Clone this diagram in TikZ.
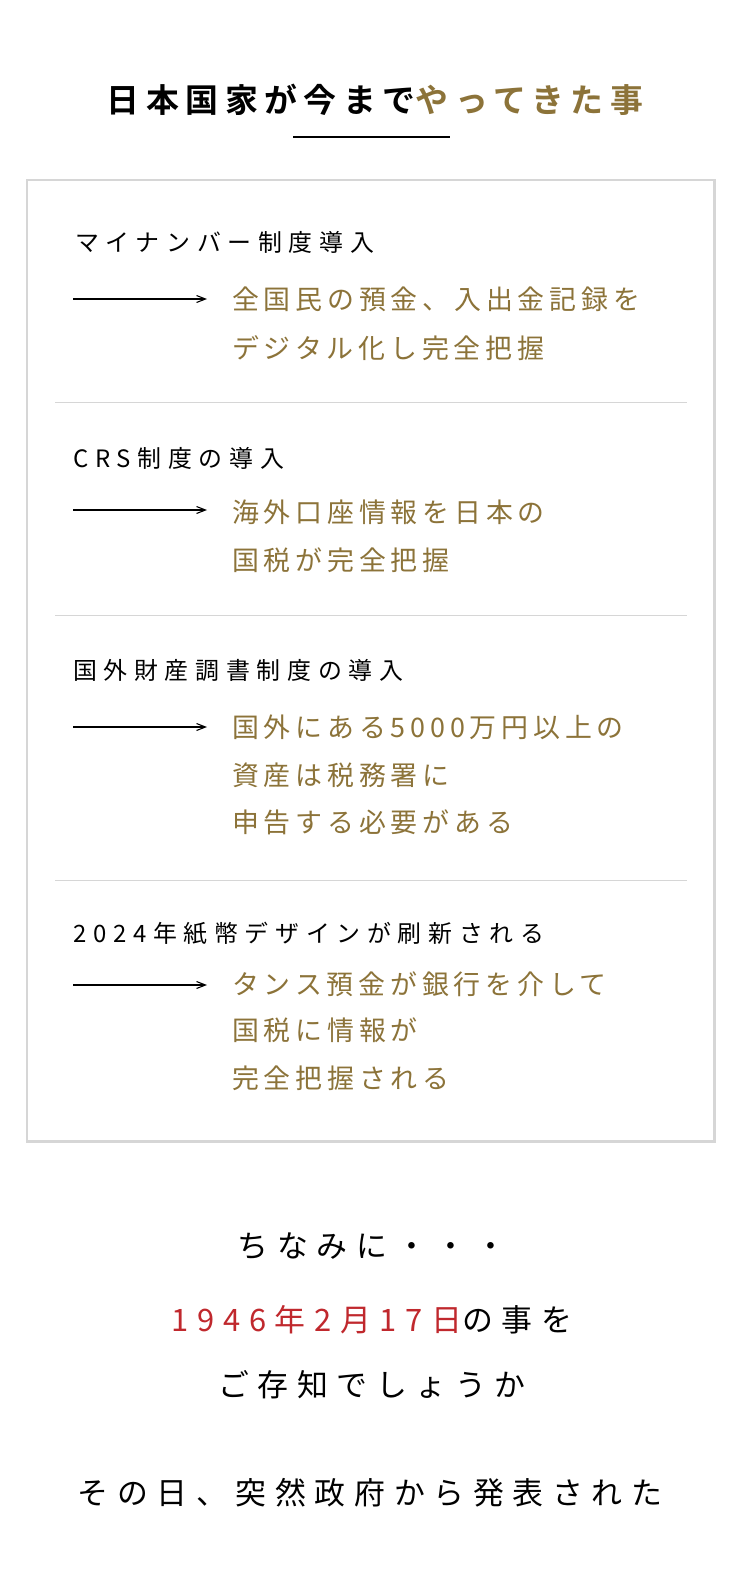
\documentclass[tikz,border=0pt]{standalone}
\usepackage{fontspec}
\setmainfont{Noto Sans CJK JP}
\newfontfamily\jph{Noto Sans CJK JP}[LetterSpace=28]
\newfontfamily\jpb{Noto Sans CJK JP}[LetterSpace=18]
\newfontfamily\jpt{Noto Sans CJK JP}[LetterSpace=20,BoldFont={* Bold}]
\newfontfamily\jpo{Noto Sans CJK JP}[LetterSpace=28]
\usetikzlibrary{arrows.meta}
\definecolor{gold}{HTML}{8C7339}
\definecolor{redc}{HTML}{C0282D}
\definecolor{boxgray}{HTML}{D6D6D6}
\begin{document}
\begin{tikzpicture}[x=1bp,y=-1bp,
  head/.style={anchor=west,inner sep=0pt,font=\fontsize{24}{28}\selectfont\jph},
  body/.style={anchor=west,inner sep=0pt,text=gold,font=\fontsize{27}{30}\selectfont\jpb},
  bot/.style={inner sep=0pt,font=\fontsize{31}{34}\selectfont\jpo},
  arr/.style={-{Straight Barb[length=9pt,width=7pt]},line width=1.1pt},
  sep/.style={draw=boxgray,line width=1pt}]
\useasboundingbox (0,0) rectangle (750,1588);
\fill[white] (0,0) rectangle (750,1588);
\node[inner sep=0pt,font=\fontsize{33}{38}\selectfont\bfseries\jpt] (title) at (375,100) {日本国家が今まで\textcolor{gold}{やってきた事}};
\coordinate (u1) at (293,137); \coordinate (u2) at (450,137);
\draw[line width=3pt] (u1) -- (u2);
\draw[boxgray,line width=3pt] (27,180) rectangle (714,1141);
\coordinate (s1a) at (55,402); \coordinate (s1b) at (687,402);
\coordinate (s2a) at (55,615); \coordinate (s2b) at (687,615);
\coordinate (s3a) at (55,880); \coordinate (s3b) at (687,880);
\draw[sep] (s1a)--(s1b); \draw[sep] (s2a)--(s2b); \draw[sep] (s3a)--(s3b);
% section 1
\node[head] (h1) at (75,242) {マイナンバー制度導入};
\coordinate (a1s) at (73,299); \coordinate (a1e) at (207,299);
\draw[arr] (a1s)--(a1e);
\node[body] (b1a) at (232,299) {全国民の預金、入出金記録を};
\node[body] (b1b) at (232,348) {デジタル化し完全把握};
% section 2
\node[head] (h2) at (73,458) {CRS制度の導入};
\coordinate (a2s) at (73,510); \coordinate (a2e) at (207,510);
\draw[arr] (a2s)--(a2e);
\node[body] (b2a) at (232,512) {海外口座情報を日本の};
\node[body] (b2b) at (232,560) {国税が完全把握};
% section 3
\node[head] (h3) at (73,670) {国外財産調書制度の導入};
\coordinate (a3s) at (73,727); \coordinate (a3e) at (207,727);
\draw[arr] (a3s)--(a3e);
\node[body] (b3a) at (232,727) {国外にある5000万円以上の};
\node[body] (b3b) at (232,775) {資産は税務署に};
\node[body] (b3c) at (232,822) {申告する必要がある};
% section 4
\node[head] (h4) at (73,934) {2024年紙幣デザインが刷新される};
\coordinate (a4s) at (73,985); \coordinate (a4e) at (207,985);
\draw[arr] (a4s)--(a4e);
\node[body] (b4a) at (232,984) {タンス預金が銀行を介して};
\node[body] (b4b) at (232,1030) {国税に情報が};
\node[body] (b4c) at (232,1078) {完全把握される};
% bottom
\node[bot] (t1) at (372,1246) {ちなみに・・・};
\node[bot] (t2) at (372,1320) {\textcolor{redc}{1946年2月17日}の事を};
\node[bot] (t3) at (372,1385) {ご存知でしょうか};
\node[bot] (t4) at (370,1493) {その日、突然政府から発表された};
\end{tikzpicture}
\end{document}
